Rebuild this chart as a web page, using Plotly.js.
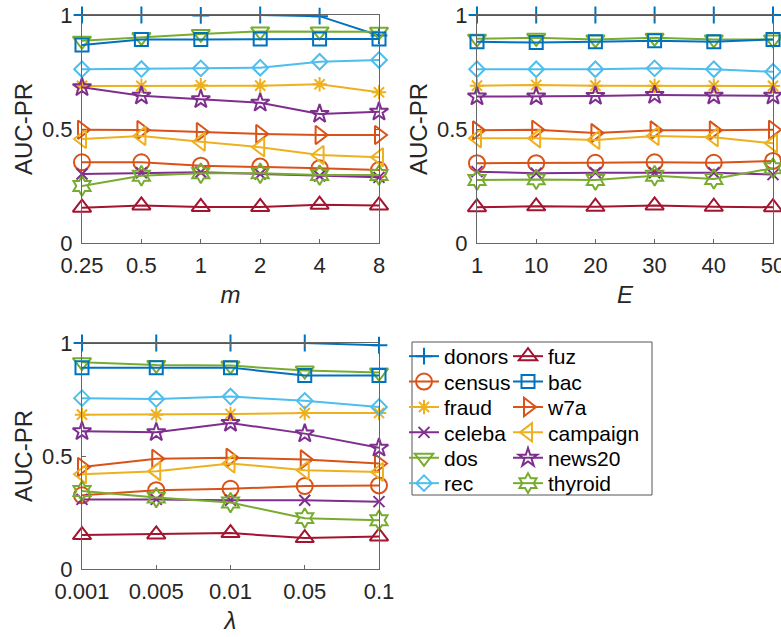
<!DOCTYPE html>
<html>
<head>
<meta charset="utf-8">
<script src="https://cdn.plot.ly/plotly-3.0.1.min.js"></script>
<style>html,body{margin:0;padding:0;background:#fff;}#chart{width:781px;height:637px;}</style>
</head>
<body>
<div id="chart"></div>
<script>
// ---- categories / tick labels ----
const mTicks = ['0.25', '0.5', '1', '2', '4', '8'];
const eTicks = ['1', '10', '20', '30', '40', '50'];
const lamTicks = ['0.001', '0.005', '0.01', '0.05', '0.1'];
const datasets = ['donors', 'census', 'fraud', 'celeba', 'dos', 'rec', 'fuz', 'bac', 'w7a', 'campaign', 'news20', 'thyroid'];

// ---- AUC-PR vs m ----
const m_donors   = [1.0, 1.0, 0.998, 1.0, 0.995, 0.91];
const m_census   = [0.354, 0.354, 0.339, 0.335, 0.328, 0.320];
const m_fraud    = [0.689, 0.689, 0.692, 0.690, 0.696, 0.661];
const m_celeba   = [0.303, 0.308, 0.310, 0.303, 0.294, 0.288];
const m_dos      = [0.887, 0.903, 0.917, 0.928, 0.928, 0.927];
const m_rec      = [0.762, 0.763, 0.766, 0.769, 0.795, 0.803];
const m_fuz      = [0.155, 0.165, 0.158, 0.158, 0.168, 0.165];
const m_bac      = [0.868, 0.893, 0.893, 0.895, 0.895, 0.895];
const m_w7a      = [0.497, 0.496, 0.487, 0.478, 0.474, 0.474];
const m_campaign = [0.456, 0.469, 0.444, 0.420, 0.386, 0.376];
const m_news20   = [0.683, 0.646, 0.630, 0.615, 0.566, 0.576];
const m_thyroid  = [0.250, 0.295, 0.306, 0.306, 0.298, 0.298];

// ---- AUC-PR vs E ----
const e_donors   = [1.0, 1.0, 1.0, 1.0, 1.0, 1.0];
const e_census   = [0.350, 0.350, 0.352, 0.354, 0.352, 0.360];
const e_fraud    = [0.690, 0.693, 0.690, 0.690, 0.690, 0.689];
const e_celeba   = [0.313, 0.306, 0.308, 0.308, 0.308, 0.300];
const e_dos      = [0.896, 0.900, 0.893, 0.900, 0.893, 0.893];
const e_rec      = [0.762, 0.762, 0.762, 0.766, 0.762, 0.751];
const e_fuz      = [0.157, 0.161, 0.159, 0.165, 0.159, 0.157];
const e_bac      = [0.883, 0.879, 0.883, 0.887, 0.883, 0.893];
const e_w7a      = [0.494, 0.497, 0.482, 0.494, 0.494, 0.497];
const e_campaign = [0.459, 0.459, 0.452, 0.469, 0.464, 0.437];
const e_news20   = [0.642, 0.642, 0.645, 0.649, 0.646, 0.646];
const e_thyroid  = [0.276, 0.279, 0.276, 0.295, 0.281, 0.328];

// ---- AUC-PR vs lambda ----
const l_donors   = [1.0, 1.0, 1.0, 1.0, 0.99];
const l_census   = [0.326, 0.349, 0.355, 0.367, 0.370];
const l_fraud    = [0.683, 0.683, 0.686, 0.690, 0.690];
const l_celeba   = [0.308, 0.308, 0.304, 0.304, 0.298];
const l_dos      = [0.915, 0.903, 0.900, 0.878, 0.869];
const l_rec      = [0.756, 0.752, 0.763, 0.744, 0.717];
const l_fuz      = [0.150, 0.153, 0.159, 0.137, 0.144];
const l_bac      = [0.891, 0.891, 0.891, 0.856, 0.856];
const l_w7a      = [0.451, 0.488, 0.492, 0.485, 0.467];
const l_campaign = [0.419, 0.433, 0.467, 0.437, 0.429];
const l_news20   = [0.609, 0.605, 0.646, 0.599, 0.536];
const l_thyroid  = [0.345, 0.316, 0.294, 0.225, 0.216];

const mData = {donors: m_donors, census: m_census, fraud: m_fraud, celeba: m_celeba, dos: m_dos, rec: m_rec,
  fuz: m_fuz, bac: m_bac, w7a: m_w7a, campaign: m_campaign, news20: m_news20, thyroid: m_thyroid};
const eData = {donors: e_donors, census: e_census, fraud: e_fraud, celeba: e_celeba, dos: e_dos, rec: e_rec,
  fuz: e_fuz, bac: e_bac, w7a: e_w7a, campaign: e_campaign, news20: e_news20, thyroid: e_thyroid};
const lData = {donors: l_donors, census: l_census, fraud: l_fraud, celeba: l_celeba, dos: l_dos, rec: l_rec,
  fuz: l_fuz, bac: l_bac, w7a: l_w7a, campaign: l_campaign, news20: l_news20, thyroid: l_thyroid};

// ---- styles (MATLAB default colour order) ----
const styles = {
  donors:   {color: '#0072BD', symbol: 'cross-thin-open', size: 12},
  census:   {color: '#D95319', symbol: 'circle-open', size: 16},
  fraud:    {color: '#EDB120', symbol: 'asterisk-open', size: 12},
  celeba:   {color: '#7E2F8E', symbol: 'x-thin-open', size: 11},
  dos:      {color: '#77AC30', symbol: 'triangle-down-open', size: 16},
  rec:      {color: '#4DBEEE', symbol: 'diamond-open', size: 12},
  fuz:      {color: '#A2142F', symbol: 'triangle-up-open', size: 16},
  bac:      {color: '#0072BD', symbol: 'square-open', size: 13},
  w7a:      {color: '#D95319', symbol: 'triangle-right-open', size: 16},
  campaign: {color: '#EDB120', symbol: 'triangle-left-open', size: 16},
  news20:   {color: '#7E2F8E', symbol: 'star-open', size: 14},
  thyroid:  {color: '#77AC30', symbol: 'hexagram-open', size: 15}
};

function legendId(i) { return i === 0 ? 'legend' : 'legend' + (i + 1); }

const traces = [];
function addPanel(xs, data, xa, ya, showLegend) {
  datasets.forEach(function (name, i) {
    const s = styles[name];
    traces.push({
      type: 'scatter', mode: 'lines+markers', name: name,
      x: xs, y: data[name], xaxis: xa, yaxis: ya,
      cliponaxis: false, showlegend: showLegend,
      legend: legendId(i),
      line: {color: s.color, width: 2},
      marker: {symbol: s.symbol, size: s.size, color: s.color, line: {width: 2, color: s.color}},
      hoverinfo: 'x+y+name'
    });
  });
}
addPanel(mTicks, mData, 'x', 'y', true);
addPanel(eTicks, eData, 'x2', 'y2', false);
addPanel(lamTicks, lData, 'x3', 'y3', false);

const W = 781, H = 637;
const FONT = 'Liberation Sans, Arial, Helvetica, sans-serif';
const tickFont = {family: FONT, size: 22, color: '#262626'};
const titleFont = {family: FONT, size: 24, color: '#262626'};
function xAxis(d, n, title, anchor) {
  return {
    type: 'category', domain: d, range: [0, n - 1], anchor: anchor,
    showline: true, mirror: 'ticks', linecolor: '#666', linewidth: 1,
    ticks: 'inside', ticklen: 4, tickcolor: '#666', tickwidth: 1,
    showgrid: false, zeroline: false, tickfont: tickFont, ticklabelstandoff: 3,
    title: {text: title, font: titleFont, standoff: 8}
  };
}
function yAxis(d, anchor) {
  return {
    domain: d, range: [0, 1], anchor: anchor,
    tickvals: [0, 0.5, 1], ticktext: ['0', '0.5', '1'],
    showline: true, mirror: 'ticks', linecolor: '#666', linewidth: 1,
    ticks: 'inside', ticklen: 4, tickcolor: '#666', tickwidth: 1,
    showgrid: false, zeroline: false, tickfont: tickFont, ticklabelstandoff: 4,
    title: {text: 'AUC-PR', font: titleFont, standoff: 2}
  };
}
const dx1 = [82 / W, 379 / W], dx2 = [477 / W, 773 / W];
const dyTop = [(H - 243) / H, (H - 15) / H], dyBot = [(H - 569) / H, (H - 343) / H];

const layout = {
  width: W, height: H,
  margin: {l: 0, r: 0, t: 0, b: 0},
  paper_bgcolor: '#ffffff', plot_bgcolor: 'rgba(0,0,0,0)',
  font: {family: FONT, color: '#262626'},
  xaxis: xAxis(dx1, mTicks.length, '<i>m</i>', 'y'),
  yaxis: yAxis(dyTop, 'x'),
  xaxis2: xAxis(dx2, eTicks.length, '<i>E</i>', 'y2'),
  yaxis2: yAxis(dyTop, 'x2'),
  xaxis3: xAxis(dx1, lamTicks.length, '<i>λ</i>', 'y3'),
  yaxis3: yAxis(dyBot, 'x3'),
  shapes: [{type: 'rect', xref: 'paper', yref: 'paper',
    x0: 412 / W, x1: 652 / W, y0: (H - 495) / H, y1: (H - 342) / H,
    line: {color: '#555', width: 1}, fillcolor: 'rgba(0,0,0,0)'}]
};

// one single-entry legend per dataset, laid out as the 2-column MATLAB legend box
datasets.forEach(function (name, i) {
  const col = Math.floor(i / 6), row = i % 6;
  const left = col === 0 ? 404 : 508;
  const centerY = 356 + row * 25.4;
  layout[legendId(i)] = {
    x: left / W, y: (H - (centerY - 20)) / H, xanchor: 'left', yanchor: 'top',
    bgcolor: 'rgba(0,0,0,0)', borderwidth: 0,
    font: {family: FONT, size: 21, color: '#000'}, itemclick: false
  };
});

Plotly.newPlot('chart', traces, layout, {displayModeBar: false, staticPlot: true});
</script>
</body>
</html>
